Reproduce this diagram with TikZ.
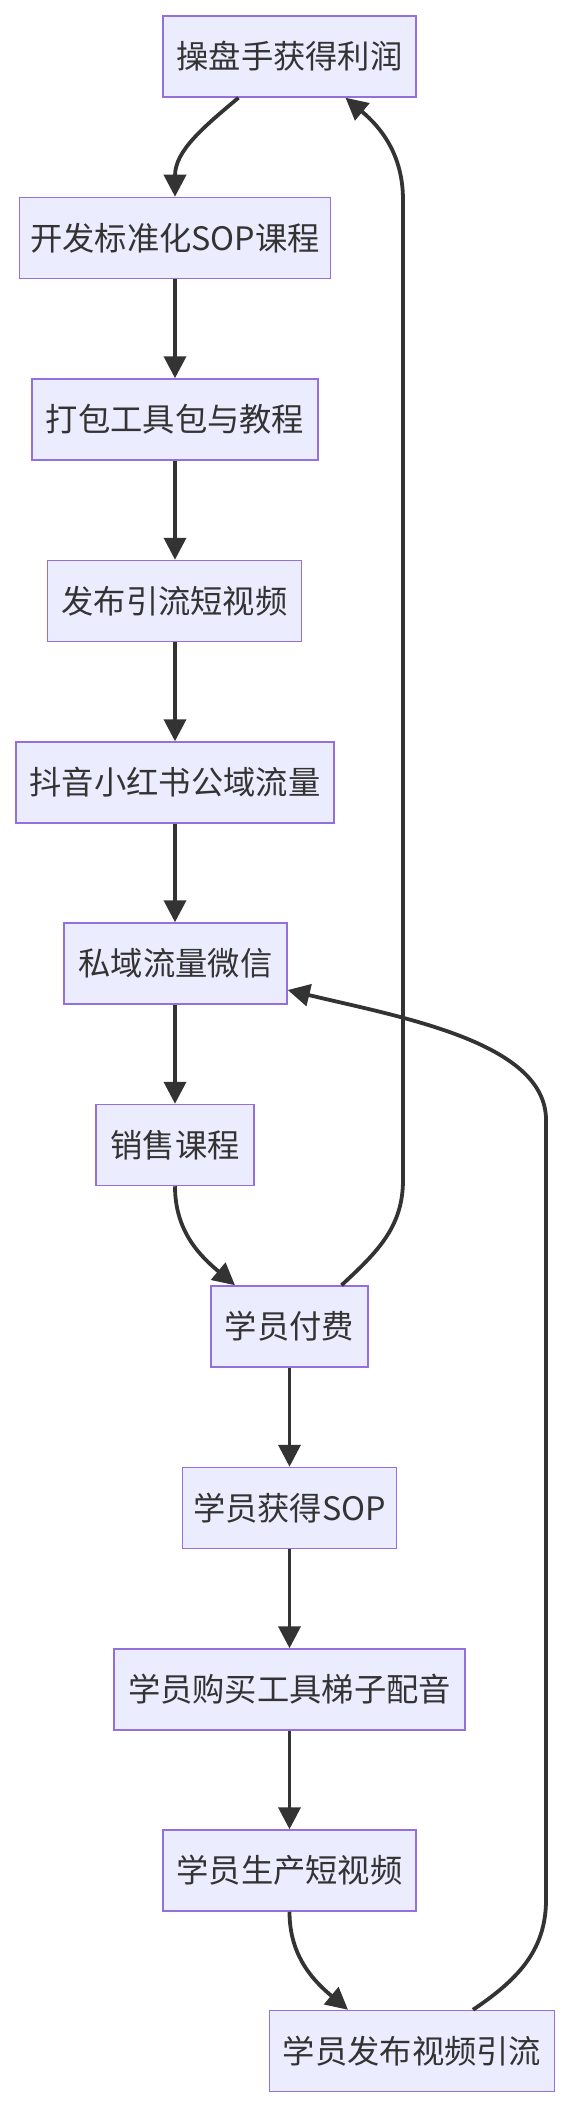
\documentclass[tikz,border=0pt]{standalone}
\usepackage{fontspec}
\setmainfont{Noto Sans CJK SC}
\usetikzlibrary{arrows.meta}
\definecolor{boxfill}{HTML}{ECECFF}
\definecolor{boxline}{HTML}{9370DB}
\definecolor{ink}{HTML}{333333}
\begin{document}
\begin{tikzpicture}[x=1pt,y=-1pt,
  box/.style={draw=boxline, fill=boxfill, line width=1.5pt, minimum height=81pt, inner sep=0pt, text=ink, font=\fontsize{32.3}{38}\selectfont},
  link/.style={draw=ink, line width=3.8pt, -{Triangle[length=22pt,width=22pt]}}]
\useasboundingbox (0,0) rectangle (572,2108);
\node[box, minimum width=253pt] (n1) at (289.5,56.5) {操盘手获得利润};
\node[box, minimum width=311pt] (n2) at (175,238) {开发标准化SOP课程};
\node[box, minimum width=286pt] (n3) at (175,419.5) {打包工具包与教程};
\node[box, minimum width=254pt] (n4) at (174.5,601) {发布引流短视频};
\node[box, minimum width=318pt] (n5) at (175,782.5) {抖音小红书公域流量};
\node[box, minimum width=223pt] (n6) at (175.5,963.5) {私域流量微信};
\node[box, minimum width=158pt] (n7) at (175,1145) {销售课程};
\node[box, minimum width=157pt] (n8) at (289.5,1326.5) {学员付费};
\node[box, minimum width=214pt] (n9) at (289.5,1508) {学员获得SOP};
\node[box, minimum width=351pt] (n10) at (289.5,1689.5) {学员购买工具梯子配音};
\node[box, minimum width=253pt] (n11) at (289.5,1870.5) {学员生产短视频};
\node[box, minimum width=285pt] (n12) at (412,2051) {学员发布视频引流};
\coordinate (a1) at (403,1180);
\coordinate (a2) at (403,200);
\coordinate (b1) at (546,1900);
\coordinate (b2) at (546,1120);
\draw[link] ([xshift=-51pt]n1.south) to[out=-140,in=90] (n2.north);
\draw[link] (n2) -- (n3);
\draw[link] (n3.south) -- (n4.north -| n3.south);
\draw[link] (n4.south -| n3.south) -- (n5.north);
\draw[link] (n5) -- (n6.north -| n5.south);
\draw[link] (n6.south -| n5.south) -- (n7.north);
\draw[link] (n7.south) to[out=-90,in=140] ([xshift=-54.5pt]n8.north);
\draw[link] (n8) -- (n9);
\draw[link] (n9) -- (n10);
\draw[link] (n10) -- (n11);
\draw[link] (n11.south) to[out=-90,in=140] ([xshift=-64pt]n12.north);
\draw[link] ([xshift=52pt]n8.north) to[out=43,in=-90] (a1) -- (a2) to[out=90,in=-40] ([xshift=56pt]n1.south);
\draw[link] ([xshift=61pt]n12.north) to[out=34,in=-90] (b1) -- (b2) .. controls (546,1042) and (400,1017) .. ([yshift=-26.5pt]n6.east);
\end{tikzpicture}
\end{document}
